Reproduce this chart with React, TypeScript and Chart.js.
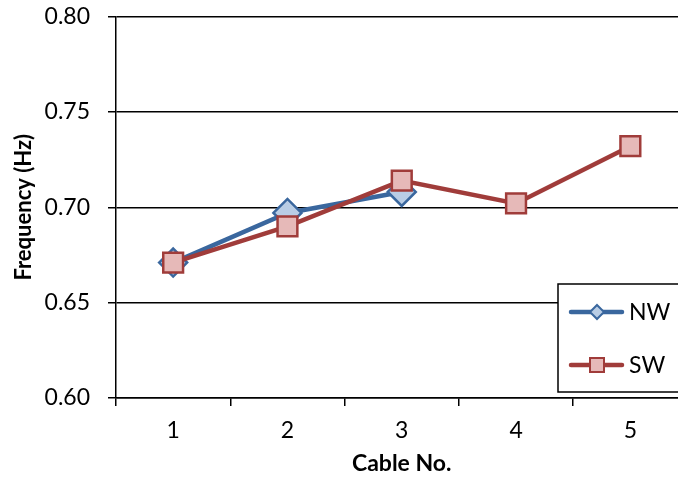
import React, { useEffect, useRef } from "react";
import { Chart, registerables } from "chart.js";

Chart.register(...registerables);

const categories = ["1", "2", "3", "4", "5"];
const nwValues: (number | null)[] = [0.671, 0.697, 0.708, null, null];
const swValues: (number | null)[] = [0.671, 0.690, 0.714, 0.702, 0.732];
const yTicks = [0.6, 0.65, 0.7, 0.75, 0.8];
const seriesNames = ["NW", "SW"];

const NW_LINE = "#3A679E";
const NW_FILL = "#B9CDE5";
const SW_LINE = "#A03C3A";
const SW_FILL = "#E6B9B8";
const FONT = "Lato, 'Open Sans', sans-serif";

const legendPlugin = {
  id: "boxLegend",
  afterDraw(chart: any) {
    const ctx = chart.ctx;
    const x0 = 558, y0 = 284, w = 160, h = 108;
    ctx.save();
    ctx.fillStyle = "#fff";
    ctx.fillRect(x0, y0, w, h);
    ctx.strokeStyle = "#000";
    ctx.lineWidth = 1.5;
    ctx.strokeRect(x0, y0, w, h);
    const items = [
      { name: seriesNames[0], y: 312, line: NW_LINE, fill: NW_FILL, style: "diamond" },
      { name: seriesNames[1], y: 365, line: SW_LINE, fill: SW_FILL, style: "square" },
    ];
    for (const it of items) {
      ctx.strokeStyle = it.line;
      ctx.lineWidth = 4.5;
      ctx.lineCap = "round";
      ctx.beginPath();
      ctx.moveTo(571, it.y);
      ctx.lineTo(622, it.y);
      ctx.stroke();
      ctx.fillStyle = it.fill;
      ctx.lineWidth = 2;
      ctx.beginPath();
      if (it.style === "diamond") {
        ctx.moveTo(597, it.y - 7);
        ctx.lineTo(604, it.y);
        ctx.lineTo(597, it.y + 7);
        ctx.lineTo(590, it.y);
        ctx.closePath();
      } else {
        ctx.rect(590, it.y - 7, 14, 14);
      }
      ctx.fill();
      ctx.stroke();
      ctx.fillStyle = "#000";
      ctx.font = `23px ${FONT}`;
      ctx.textAlign = "left";
      ctx.textBaseline = "middle";
      ctx.fillText(it.name, 629, it.y + 1);
    }
    ctx.restore();
  },
};

export default function App() {
  const ref = useRef<HTMLCanvasElement>(null);
  useEffect(() => {
    document.body.style.margin = "0";
    document.body.style.overflow = "hidden";
    const chart = new Chart(ref.current!, {
      type: "line",
      data: {
        labels: categories,
        datasets: [
          {
            label: seriesNames[0],
            data: nwValues,
            borderColor: NW_LINE,
            backgroundColor: NW_FILL,
            borderWidth: 4.5,
            pointStyle: "rectRot",
            pointRadius: 14,
            pointBorderWidth: 2.5,
            pointBorderColor: NW_LINE,
            pointBackgroundColor: NW_FILL,
            order: 1,
            spanGaps: false,
          },
          {
            label: seriesNames[1],
            data: swValues,
            borderColor: SW_LINE,
            backgroundColor: SW_FILL,
            borderWidth: 4.5,
            pointStyle: "rect",
            pointRadius: 14,
            pointBorderWidth: 2.5,
            pointBorderColor: SW_LINE,
            pointBackgroundColor: SW_FILL,
            order: 0,
          },
        ],
      },
      options: {
        animation: false,
        responsive: false,
        maintainAspectRatio: false,
        layout: { padding: { top: 16, right: 7, left: 0, bottom: 0 } },
        plugins: {
          legend: { display: false },
          tooltip: { enabled: false },
        },
        scales: {
          x: {
            type: "category",
            offset: true,
            afterFit: (s: any) => {
              s.height = 79;
              s.paddingLeft = 0;
              s.paddingRight = 0;
            },
            grid: {
              display: true,
              drawOnChartArea: false,
              offset: true,
              color: "#000",
              lineWidth: 1.5,
              tickLength: 8,
              tickWidth: 1.5,
            },
            border: { display: true, color: "#000", width: 1.5 },
            ticks: { color: "#000", font: { family: FONT, size: 23 }, padding: 11 },
            title: {
              display: true,
              text: "Cable No.",
              color: "#000",
              font: { family: FONT, size: 23, weight: "bold" },
              padding: { top: 1, bottom: 0 },
            },
          },
          y: {
            min: 0.6,
            max: 0.8,
            afterFit: (s: any) => {
              s.width = 116;
              s.paddingTop = 0;
              s.paddingBottom = 0;
            },
            afterBuildTicks: (s: any) => { s.ticks = yTicks.map((v) => ({ value: v })); },
            grid: {
              color: "#000",
              lineWidth: 1.5,
              tickLength: 8,
              tickWidth: 1.5,
            },
            border: { display: true, color: "#000", width: 1.5 },
            ticks: {
              color: "#000",
              font: { family: FONT, size: 23 },
              padding: 18,
              callback: (v: any) => Number(v).toFixed(2),
            },
            title: {
              display: true,
              text: "Frequency (Hz)",
              color: "#000",
              font: { family: FONT, size: 22, weight: "bold" },
              padding: { top: 11, bottom: 0 },
            },
          },
        },
      },
      plugins: [legendPlugin],
    });
    return () => chart.destroy();
  }, []);
  return (
    <div style={{ width: 678, height: 477, overflow: "hidden", position: "relative", background: "#fff" }}>
      <canvas ref={ref} width={704} height={477} style={{ display: "block", width: 704, height: 477 }} />
    </div>
  );
}
